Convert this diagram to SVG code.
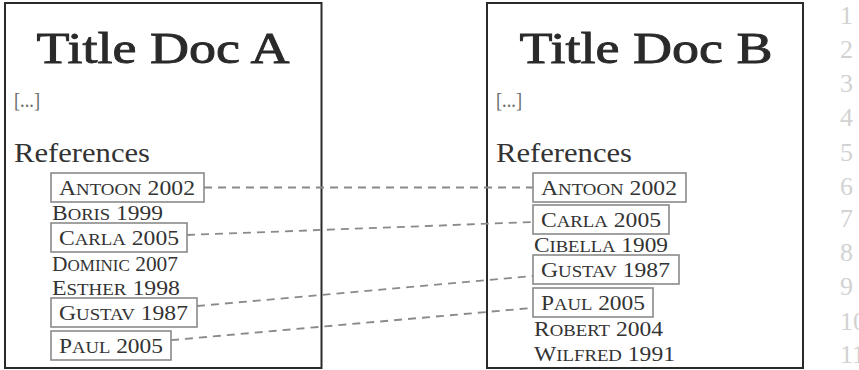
<svg xmlns="http://www.w3.org/2000/svg" width="859" height="370" viewBox="0 0 859 370">
<style>
text{font-family:"Liberation Serif","Times New Roman",serif;fill:#2a2a2a}
.doc{fill:#fff;stroke:#2a2a2a;stroke-width:2}
.title{font-size:45px;text-anchor:middle;stroke:#2a2a2a;stroke-width:0.9}
.dots{font-size:20px;fill:#6a6a6a}
.refs{font-size:28px;fill:#333}
.e{font-size:22px;fill:#333}
.sc{font-size:17.5px}
.box{fill:none;stroke:#8a8a8a;stroke-width:1.6}
.ln{font-size:26px;fill:#d2d2d2}
.conn{fill:none;stroke:#8a8a8a;stroke-width:1.8;stroke-dasharray:8 6}
</style>
<g id="docA">
<rect class="doc" x="5" y="3" width="316.5" height="365"/>
<text class="title" x="163" y="63" textLength="253" lengthAdjust="spacingAndGlyphs">Title Doc A</text>
<text class="dots" x="14" y="107" textLength="26" lengthAdjust="spacingAndGlyphs">[...]</text>
<text class="refs" x="14" y="162" textLength="136" lengthAdjust="spacingAndGlyphs">References</text>
<g id="a-antoon"><rect class="box" x="51" y="173" width="153" height="29"/><text class="e" x="59" y="195" textLength="136" lengthAdjust="spacingAndGlyphs">A<tspan class="sc">NTOON</tspan> 2002</text></g>
<g id="a-boris"><text class="e" x="52" y="220" textLength="111" lengthAdjust="spacingAndGlyphs">B<tspan class="sc">ORIS</tspan> 1999</text></g>
<g id="a-carla"><rect class="box" x="51" y="223" width="136" height="29"/><text class="e" x="59" y="245" textLength="120" lengthAdjust="spacingAndGlyphs">C<tspan class="sc">ARLA</tspan> 2005</text></g>
<g id="a-dominic"><text class="e" x="52" y="271" textLength="126" lengthAdjust="spacingAndGlyphs">D<tspan class="sc">OMINIC</tspan> 2007</text></g>
<g id="a-esther"><text class="e" x="52" y="295" textLength="128" lengthAdjust="spacingAndGlyphs">E<tspan class="sc">STHER</tspan> 1998</text></g>
<g id="a-gustav"><rect class="box" x="51" y="298" width="146" height="29"/><text class="e" x="59" y="320" textLength="129" lengthAdjust="spacingAndGlyphs">G<tspan class="sc">USTAV</tspan> 1987</text></g>
<g id="a-paul"><rect class="box" x="51" y="331" width="120" height="29"/><text class="e" x="59" y="353" textLength="104" lengthAdjust="spacingAndGlyphs">P<tspan class="sc">AUL</tspan> 2005</text></g>
</g>
<g id="docB">
<rect class="doc" x="487" y="3" width="316" height="365"/>
<text class="title" x="646" y="63" textLength="253" lengthAdjust="spacingAndGlyphs">Title Doc B</text>
<text class="dots" x="496" y="107" textLength="26" lengthAdjust="spacingAndGlyphs">[...]</text>
<text class="refs" x="496" y="162" textLength="136" lengthAdjust="spacingAndGlyphs">References</text>
<g id="b-antoon"><rect class="box" x="533" y="173" width="153" height="29"/><text class="e" x="541" y="195" textLength="136" lengthAdjust="spacingAndGlyphs">A<tspan class="sc">NTOON</tspan> 2002</text></g>
<g id="b-carla"><rect class="box" x="533" y="205" width="136" height="29"/><text class="e" x="541" y="227" textLength="120" lengthAdjust="spacingAndGlyphs">C<tspan class="sc">ARLA</tspan> 2005</text></g>
<g id="b-cibella"><text class="e" x="534" y="252" textLength="134" lengthAdjust="spacingAndGlyphs">C<tspan class="sc">IBELLA</tspan> 1909</text></g>
<g id="b-gustav"><rect class="box" x="533" y="255" width="146" height="29"/><text class="e" x="541" y="277" textLength="129" lengthAdjust="spacingAndGlyphs">G<tspan class="sc">USTAV</tspan> 1987</text></g>
<g id="b-paul"><rect class="box" x="533" y="288" width="120" height="29"/><text class="e" x="541" y="310" textLength="104" lengthAdjust="spacingAndGlyphs">P<tspan class="sc">AUL</tspan> 2005</text></g>
<g id="b-robert"><text class="e" x="534" y="336" textLength="129" lengthAdjust="spacingAndGlyphs">R<tspan class="sc">OBERT</tspan> 2004</text></g>
<g id="b-wilfred"><text class="e" x="534" y="361" textLength="141" lengthAdjust="spacingAndGlyphs">W<tspan class="sc">ILFRED</tspan> 1991</text></g>
</g>
<g id="connectors">
<line class="conn" x1="204" y1="187.5" x2="533" y2="187.5"/>
<line class="conn" x1="187" y1="235" x2="533" y2="222"/>
<line class="conn" x1="197" y1="306" x2="533" y2="276"/>
<line class="conn" x1="171" y1="340.2" x2="533" y2="307.8"/>
</g>
<g id="line-numbers">
<text class="ln" x="840" y="24">1</text>
<text class="ln" x="840" y="58">2</text>
<text class="ln" x="840" y="92">3</text>
<text class="ln" x="840" y="126">4</text>
<text class="ln" x="840" y="161">5</text>
<text class="ln" x="840" y="195">6</text>
<text class="ln" x="840" y="227">7</text>
<text class="ln" x="840" y="261">8</text>
<text class="ln" x="840" y="295">9</text>
<text class="ln" x="840" y="330">10</text>
<text class="ln" x="840" y="363">11</text>
</g>
</svg>
